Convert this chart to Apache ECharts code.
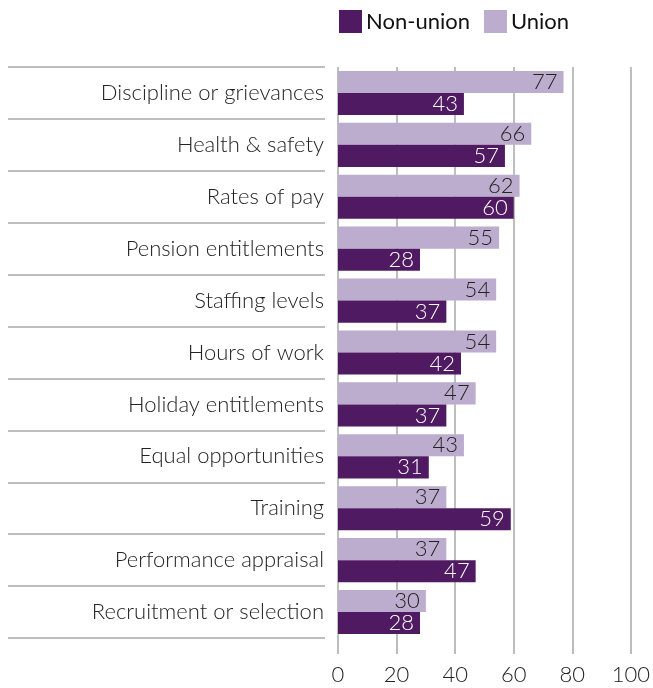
<!DOCTYPE html>
<html>
<head>
<meta charset="utf-8">
<script src="https://cdn.jsdelivr.net/npm/echarts@6/dist/echarts.min.js"></script>
<style>
html,body{margin:0;padding:0;background:#fff;}
#chart{width:653px;height:688px;}
</style>
</head>
<body>
<div id="chart"></div>
<script>
const categories = ["Discipline or grievances","Health & safety","Rates of pay","Pension entitlements","Staffing levels","Hours of work","Holiday entitlements","Equal opportunities","Training","Performance appraisal","Recruitment or selection"];
const unionValues = [77,66,62,55,54,54,47,43,37,37,30];
const nonUnionValues = [43,57,60,28,37,42,37,31,59,47,28];
const xTicks = [0,20,40,60,80,100];

const FONT = "Lato";
const W = 300;
const GRID = '#a8a8a8';
const chart = echarts.init(document.getElementById('chart'));
chart.setOption({
  animation: false,
  textStyle: {fontFamily: FONT, fontWeight: W},
  legend: {
    data: ['Non-union','Union'],
    left: 339, top: 10, padding: 0,
    itemWidth: 23, itemHeight: 23, itemGap: 14,
    icon: 'rect',
    textStyle: {fontFamily: FONT, fontWeight: 400, fontSize: 22, color: '#111', padding: [0,0,0,-1]}
  },
  grid: [
    {left: 338, right: 20, top: 67, bottom: 50, containLabel: false},
    {left: 8, width: 317, top: 67, bottom: 50, containLabel: false}
  ],
  xAxis: [
    {
      type: 'value', gridIndex: 0, min: xTicks[0], max: xTicks[xTicks.length-1], interval: 20,
      axisLine: {show: false},
      axisTick: {show: true, length: 16, lineStyle: {color: GRID, width: 1.5}},
      axisLabel: {fontFamily: FONT, fontWeight: W, fontSize: 22, color: '#222', margin: 26},
      splitLine: {show: true, lineStyle: {color: GRID, width: 1.5}}
    },
    {
      type: 'value', gridIndex: 1, min: 0, max: 1, show: false
    }
  ],
  yAxis: [
    {
      type: 'category', gridIndex: 0, data: categories, inverse: true,
      axisLine: {show: false},
      axisTick: {show: false},
      axisLabel: {fontFamily: FONT, fontWeight: W, fontSize: 22, color: '#222', margin: 14, interval: 0}
    },
    {
      type: 'category', gridIndex: 1, data: categories, inverse: true,
      axisLine: {show: false},
      axisTick: {show: false},
      axisLabel: {show: false},
      splitLine: {show: true, interval: 0, lineStyle: {color: GRID, width: 1.5}}
    }
  ],
  series: [
    {
      name: 'Union', type: 'bar', data: unionValues, xAxisIndex: 0, yAxisIndex: 0,
      barGap: '0%', barCategoryGap: '15%',
      itemStyle: {color: '#bcaccd'},
      label: {show: true, position: 'insideRight', distance: 6, fontFamily: FONT, fontWeight: W, fontSize: 22, color: '#222'}
    },
    {
      name: 'Non-union', type: 'bar', data: nonUnionValues, xAxisIndex: 0, yAxisIndex: 0,
      barGap: '0%', barCategoryGap: '15%',
      itemStyle: {color: '#4f1a62'},
      label: {show: true, position: 'insideRight', distance: 6, fontFamily: FONT, fontWeight: W, fontSize: 22, color: '#fff'}
    }
  ]
});
</script>
</body>
</html>
